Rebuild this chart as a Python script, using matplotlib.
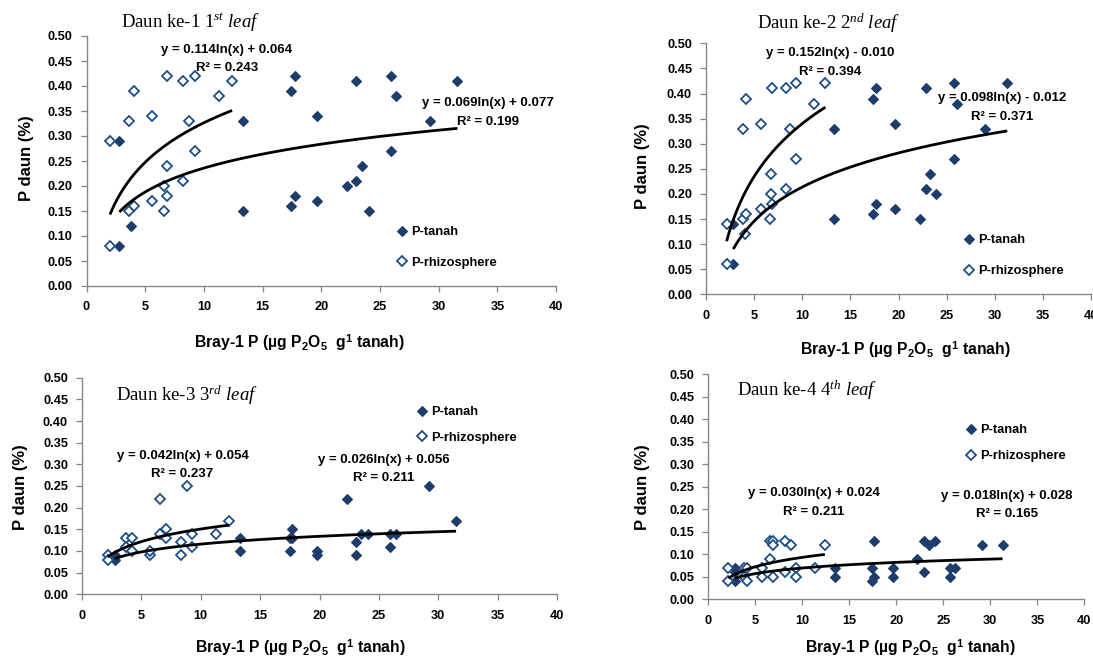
import numpy as np
import matplotlib
matplotlib.use('Agg')
import matplotlib.pyplot as plt

W, H = 1093, 658
plt.rcParams['font.family'] = ['Liberation Sans', 'DejaVu Sans']
plt.rcParams['font.weight'] = 'bold'
plt.rcParams['mathtext.fontset'] = 'custom'
plt.rcParams['mathtext.rm'] = 'Liberation Serif:weight=normal'
plt.rcParams['mathtext.it'] = 'Liberation Serif:style=italic:weight=normal'
plt.rcParams['mathtext.bf'] = 'Liberation Sans:weight=bold'

# ---------------- data ----------------
titles = [r'Daun ke-1 $\mathit{1}^{\mathit{st}}\ \mathit{leaf}$',
          r'Daun ke-2 $\mathit{2}^{\mathit{nd}}\ \mathit{leaf}$',
          r'Daun ke-3 $\mathit{3}^{\mathit{rd}}\ \mathit{leaf}$',
          r'Daun ke-4 $\mathit{4}^{\mathit{th}}\ \mathit{leaf}$']
series_names = ['P-tanah', 'P-rhizosphere']

# Leaf 1
tanah_x1 = [2.8, 2.8, 3.75, 13.3, 13.3, 17.4, 17.4, 17.8, 17.8, 19.65, 19.65, 22.2, 23.0, 23.0, 23.5, 24.1, 25.9, 25.9, 26.4, 29.3, 31.6]
tanah_y1 = [0.29, 0.08, 0.12, 0.33, 0.15, 0.39, 0.16, 0.42, 0.18, 0.34, 0.17, 0.20, 0.41, 0.21, 0.24, 0.15, 0.42, 0.27, 0.38, 0.33, 0.41]
rhizo_x1 = [2.0, 2.0, 3.66, 3.66, 4.03, 4.03, 5.6, 5.6, 6.6, 6.6, 6.9, 6.9, 6.9, 8.26, 8.26, 8.7, 9.26, 9.26, 11.3, 12.4]
rhizo_y1 = [0.29, 0.08, 0.33, 0.15, 0.39, 0.16, 0.34, 0.17, 0.20, 0.15, 0.42, 0.24, 0.18, 0.41, 0.21, 0.33, 0.42, 0.27, 0.38, 0.41]

# Leaf 2
tanah_x2 = [2.83, 2.83, 13.3, 13.3, 17.3, 17.3, 17.66, 17.66, 19.6, 19.6, 22.2, 22.9, 22.9, 23.3, 23.9, 25.8, 25.8, 26.1, 29.0, 31.3]
tanah_y2 = [0.14, 0.06, 0.33, 0.15, 0.39, 0.16, 0.41, 0.18, 0.34, 0.17, 0.15, 0.41, 0.21, 0.24, 0.20, 0.42, 0.27, 0.38, 0.33, 0.42]
rhizo_x2 = [2.14, 2.14, 3.8, 3.8, 4.2, 4.2, 4.0, 5.7, 5.7, 6.9, 6.8, 6.8, 6.7, 6.9, 8.27, 8.27, 8.76, 9.3, 9.3, 11.27, 12.4]
rhizo_y2 = [0.14, 0.06, 0.33, 0.15, 0.39, 0.16, 0.12, 0.34, 0.17, 0.41, 0.24, 0.20, 0.15, 0.18, 0.41, 0.21, 0.33, 0.42, 0.27, 0.38, 0.42]

# Leaf 3
tanah_x3 = [2.78, 2.78, 13.3, 13.3, 17.5, 17.5, 17.7, 17.7, 19.8, 19.8, 22.3, 23.1, 23.1, 23.5, 24.1, 25.9, 25.9, 26.4, 29.2, 31.5]
tanah_y3 = [0.08, 0.09, 0.13, 0.10, 0.13, 0.10, 0.15, 0.13, 0.10, 0.09, 0.22, 0.12, 0.09, 0.14, 0.14, 0.14, 0.11, 0.14, 0.25, 0.17]
rhizo_x3 = [2.16, 2.16, 3.7, 3.7, 4.18, 4.18, 5.73, 5.73, 6.57, 6.57, 7.05, 7.05, 8.34, 8.34, 8.87, 9.3, 9.3, 11.3, 12.4]
rhizo_y3 = [0.09, 0.08, 0.13, 0.11, 0.13, 0.10, 0.09, 0.10, 0.22, 0.14, 0.15, 0.13, 0.12, 0.09, 0.25, 0.14, 0.11, 0.14, 0.17]

# Leaf 4
tanah_x4 = [2.84, 2.84, 2.84, 13.5, 13.5, 17.4, 17.4, 17.6, 17.6, 19.6, 19.6, 22.2, 22.9, 22.9, 23.5, 24.1, 25.7, 25.7, 26.2, 29.1, 31.3]
tanah_y4 = [0.07, 0.04, 0.06, 0.07, 0.05, 0.07, 0.04, 0.13, 0.05, 0.07, 0.05, 0.09, 0.13, 0.06, 0.12, 0.13, 0.07, 0.05, 0.07, 0.12, 0.12]
rhizo_x4 = [2.13, 2.13, 3.8, 3.8, 4.1, 4.1, 5.7, 5.7, 6.56, 6.56, 6.9, 6.9, 6.9, 8.2, 8.2, 8.77, 9.3, 9.3, 11.3, 12.4]
rhizo_y4 = [0.07, 0.04, 0.07, 0.05, 0.07, 0.04, 0.07, 0.05, 0.09, 0.13, 0.13, 0.12, 0.05, 0.13, 0.06, 0.12, 0.07, 0.05, 0.07, 0.12]

# logarithmic trendline coefficients (slope, intercept, R2) as printed
tanah_fit = [(0.069, 0.077, 0.199), (0.098, -0.012, 0.371), (0.026, 0.056, 0.211), (0.018, 0.028, 0.165)]
rhizo_fit = [(0.114, 0.064, 0.243), (0.152, -0.010, 0.394), (0.042, 0.054, 0.237), (0.030, 0.024, 0.211)]

x_ticks = [0, 5, 10, 15, 20, 25, 30, 35, 40]
y_ticks = [0.00, 0.05, 0.10, 0.15, 0.20, 0.25, 0.30, 0.35, 0.40, 0.45, 0.50]
xlabel = r'Bray-1 P (µg P$_\mathbf{2}$O$_\mathbf{5}$  g$^\mathbf{1}$ tanah)'
ylabel = 'P daun (%)'

tanah_xs = [tanah_x1, tanah_x2, tanah_x3, tanah_x4]
tanah_ys = [tanah_y1, tanah_y2, tanah_y3, tanah_y4]
rhizo_xs = [rhizo_x1, rhizo_x2, rhizo_x3, rhizo_x4]
rhizo_ys = [rhizo_y1, rhizo_y2, rhizo_y3, rhizo_y4]

# ---------------- layout (pixels) ----------------
axes_px = [(86.5, 556, 36, 286), (706, 1091, 43.3, 294.3),
           (82, 557, 377.7, 594.3), (708.3, 1084.3, 374, 599.3)]
title_px = [(120.7, 21.7), (757, 23.3), (116, 395), (737.3, 390)]
ylabel_px = [(26, 158), (643, 166), (21, 487), (643, 487)]
xlabel_px = [(299, 342.7), (905, 350), (300, 647), (910, 648)]
rh_eq_px = [(227, 50), (830, 53.3), (182.5, 455.7), (814, 493.3)]
ta_eq_px = [(488, 103.3), (1002, 98.3), (384, 460), (1007, 495.7)]
legend_px = [(396, 226, 1.45), (963, 234, 1.5), (416, 406, 1.05), (965, 424, 1.1)]

FILL = '#1F3D6B'
OPEN = '#1F4E86'
GRAY = '#868686'

fig = plt.figure(figsize=(W / 100, H / 100), dpi=100)
fig.patch.set_facecolor('white')

def fx(px):
    return px / W

def fy(py):
    return 1 - py / H

def eq_text(a, c):
    sign = '+' if c >= 0 else '-'
    return 'y = %.3fln(x) %s %.3f' % (a, sign, abs(c))

for i in range(4):
    l, r, t, b = axes_px[i]
    ax = fig.add_axes([l / W, 1 - b / H, (r - l) / W, (b - t) / H])
    ax.set_facecolor('none')
    ax.set_xlim(0, 40)
    ax.set_ylim(0, 0.5)
    for s in ['top', 'right']:
        ax.spines[s].set_visible(False)
    for s in ['left', 'bottom']:
        ax.spines[s].set_color(GRAY)
        ax.spines[s].set_linewidth(1.0)
    ax.set_xticks(x_ticks)
    ax.set_yticks(y_ticks)
    ax.set_yticklabels(['%.2f' % v for v in y_ticks])
    ax.tick_params(direction='out', length=4, width=0.9, color=GRAY,
                   labelsize=9.2)
    ax.tick_params(axis='x', pad=7.0)
    ax.tick_params(axis='y', pad=6.0)
    for lab in ax.get_xticklabels() + ax.get_yticklabels():
        lab.set_fontweight('bold')

    h1, = ax.plot(tanah_xs[i], tanah_ys[i], linestyle='none', marker='D', ms=5.3,
                  mfc=FILL, mec=FILL, mew=0.8, zorder=3, clip_on=False,
                  label=series_names[0])
    h2, = ax.plot(rhizo_xs[i], rhizo_ys[i], linestyle='none', marker='D', ms=5.0,
                  mfc='white', mec=OPEN, mew=1.3, zorder=4, clip_on=False,
                  label=series_names[1])

    # trendlines
    for xs, (a, c, r2) in [(tanah_xs[i], tanah_fit[i]), (rhizo_xs[i], rhizo_fit[i])]:
        xx = np.linspace(min(xs), max(xs), 200)
        ax.plot(xx, a * np.log(xx) + c, color='black', lw=2.0, zorder=5,
                solid_capstyle='butt')

    # equation labels
    for (a, c, r2), (ex, ey) in [(rhizo_fit[i], rh_eq_px[i]), (tanah_fit[i], ta_eq_px[i])]:
        fig.text(fx(ex), fy(ey), eq_text(a, c), ha='center', va='center',
                 fontsize=9.5, fontweight='bold')
        fig.text(fx(ex), fy(ey + 18.3), 'R² = %.3f' % r2, ha='center', va='center',
                 fontsize=9.5, fontweight='bold')

    # legend
    lx, ly, lsp = legend_px[i]
    ax.legend(handles=[h1, h2], loc='upper left', bbox_to_anchor=(fx(lx), fy(ly)),
              bbox_transform=fig.transFigure, frameon=False, numpoints=1,
              handlelength=0.9, handletextpad=0.25, borderpad=0, borderaxespad=0,
              labelspacing=lsp, prop={'size': 9.3, 'weight': 'bold'})

    # titles
    tx, ty = title_px[i]
    fig.text(fx(tx), fy(ty), titles[i], ha='left', va='center', fontsize=13.5,
             fontweight='normal', family='Liberation Serif')

    # axis labels
    yx, yy = ylabel_px[i]
    fig.text(fx(yx), fy(yy), ylabel, rotation=90, ha='center', va='center',
             fontsize=12, fontweight='bold')
    xx_, xy_ = xlabel_px[i]
    fig.text(fx(xx_), fy(xy_), xlabel, ha='center', va='center',
             fontsize=11.3, fontweight='bold')

fig.savefig('out.png', dpi=100, facecolor='white')
